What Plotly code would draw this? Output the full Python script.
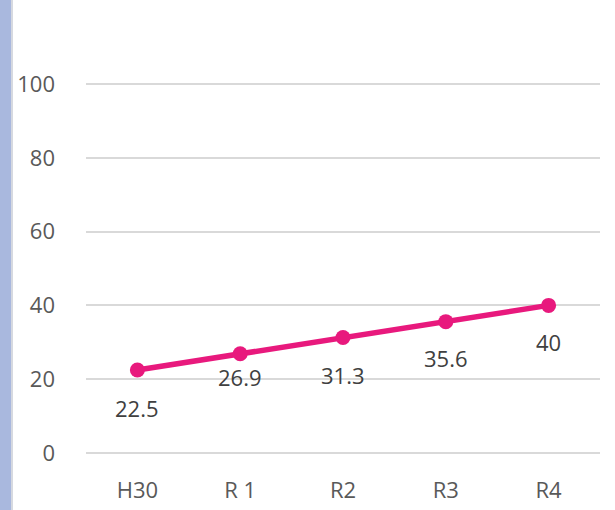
import plotly.graph_objects as go

categories = ["H30", "R 1", "R2", "R3", "R4"]
values = [22.5, 26.9, 31.3, 35.6, 40]
y_ticks = [0, 20, 40, 60, 80, 100]

W, H = 615, 510
ML, MR, MT, MB = 86, 15, 80, 57
pw = W - ML - MR
ph = H - MT - MB
y_top = 100 * ph / (453 - 84)  # extend a bit above 100 so its gridline is drawn

label_shift = [-38, -23, -37, -36, -37]
FONT = "Open Sans"
FS = 22

fig = go.Figure()
fig.add_trace(go.Scatter(
    x=categories, y=values, mode="lines+markers",
    line=dict(color="#E8197D", width=5.5),
    marker=dict(color="#E8197D", size=15),
    cliponaxis=False, hoverinfo="skip", showlegend=False,
))

for c, v, s in zip(categories, values, label_shift):
    fig.add_annotation(x=c, y=v, text=f"{v:g}", showarrow=False, yshift=s,
                       font=dict(size=FS, color="#404040", family=FONT))

fig.add_shape(type="rect", xref="paper", yref="paper",
              x0=-ML / pw, x1=-(ML - 11) / pw, y0=-MB / ph - 0.1, y1=(ph + MT) / ph + 0.1,
              fillcolor="#A9B8DE", line=dict(width=0), layer="below")
fig.add_shape(type="rect", xref="paper", yref="paper",
              x0=-(ML - 11) / pw, x1=-(ML - 13) / pw, y0=-MB / ph - 0.1, y1=(ph + MT) / ph + 0.1,
              fillcolor="#D6D9E0", line=dict(width=0), layer="below")

fig.update_layout(
    width=W, height=H,
    margin=dict(l=ML, r=MR, t=MT, b=MB, autoexpand=False),
    paper_bgcolor="white", plot_bgcolor="white",
    font=dict(family=FONT, size=FS, color="#595959"),
    xaxis=dict(showgrid=False, showline=False, ticks="", ticklabelstandoff=22, automargin=False,
               tickfont=dict(size=FS, color="#595959"), range=[-0.5, 4.5]),
    yaxis=dict(range=[0, y_top], tickvals=y_ticks, showgrid=True, gridcolor="#D9D9D9", gridwidth=1.5,
               zeroline=True, zerolinecolor="#D9D9D9", zerolinewidth=1.5, showline=False, automargin=False,
               ticks="", ticklabelstandoff=30, tickfont=dict(size=FS, color="#595959")),
)

fig.write_html("out.html", config={"displayModeBar": False},
               post_script="document.body.style.margin='0';document.body.style.overflow='hidden';")
